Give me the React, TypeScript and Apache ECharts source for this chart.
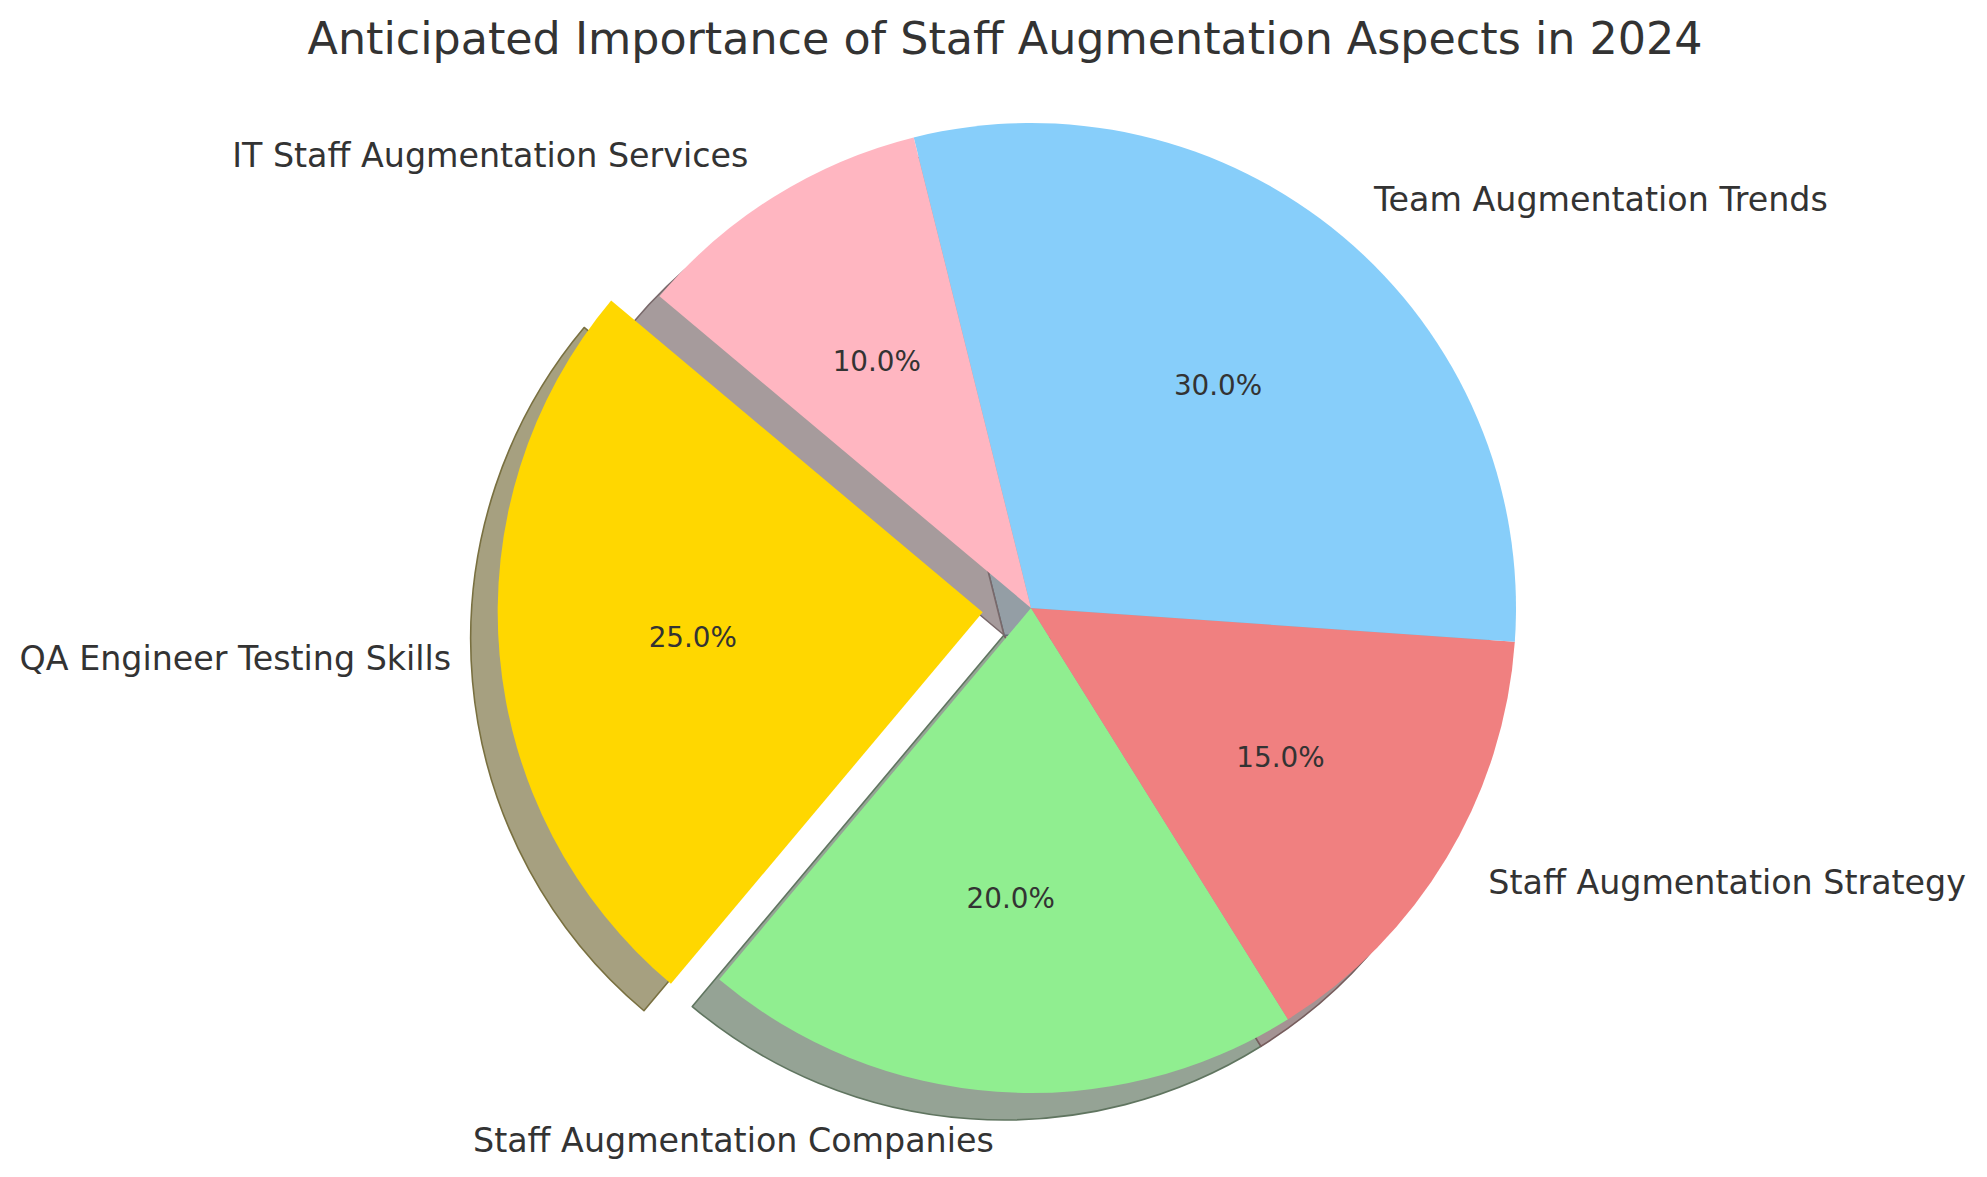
import React, { useEffect, useRef } from 'react';
import * as echarts from 'echarts';

// ---- data ----
const categories = [
  'QA Engineer Testing Skills',
  'Staff Augmentation Companies',
  'Staff Augmentation Strategy',
  'Team Augmentation Trends',
  'IT Staff Augmentation Services',
];
const values = [25, 20, 15, 30, 10];
const explode = [0.1, 0, 0, 0, 0];
const colors = ['#FFD700', '#90EE90', '#F08080', '#87CEFA', '#FFB6C1'];
const titleText = 'Anticipated Importance of Staff Augmentation Aspects in 2024';

// ---- layout ----
const W = 1987;
const H = 1177;
const CX = 1031;
const CY = 608;
const R = 485;
const SHADOW = 27;
const START = 140;
const FONT = 'DejaVu Sans';
const TEXT = '#333333';

function hexToRgb(h: string) {
  const n = parseInt(h.slice(1), 16);
  return [(n >> 16) & 255, (n >> 8) & 255, n & 255];
}
function mix(hex: string, k: number, cover: number) {
  const c = hexToRgb(hex).map((v) => v * k);
  const out = c.map((v) => Math.round(v * cover + 255 * (1 - cover)));
  return `rgb(${out[0]},${out[1]},${out[2]})`;
}

export default function App() {
  const ref = useRef<HTMLDivElement>(null);
  useEffect(() => {
    document.body.style.margin = '0';
    document.body.style.overflow = 'hidden';
    if (!ref.current) return;
    const chart = echarts.init(ref.current, undefined, { renderer: 'svg', width: W, height: H });
    const maxExplode = Math.max(...explode);
    const common = {
      type: 'pie',
      silent: true,
      startAngle: START,
      clockwise: false,
      selectedMode: 'multiple',
      selectedOffset: maxExplode * R,
      avoidLabelOverlap: false,
      emphasis: { disabled: true },
    };
    const shadowSeries = {
      ...common,
      center: [CX - SHADOW, CY + SHADOW],
      radius: R,
      label: { show: false },
      labelLine: { show: false },
      data: categories.map((name, i) => {
        const st = { color: mix(colors[i], 0.3, 0.5), borderColor: mix(colors[i], 0.3, 0.75), borderWidth: 1.6 };
        return { name, value: values[i], selected: explode[i] > 0, itemStyle: st, select: { itemStyle: st } };
      }),
    };
    const mainSeries = {
      ...common,
      center: [CX, CY],
      radius: R,
      label: {
        show: true,
        position: 'outside',
        formatter: '{b}',
        fontSize: 33.3,
        fontFamily: FONT,
        color: TEXT,
        distanceToLabelLine: 0,
      },
      labelLine: { show: false, length: R * 0.1, length2: 0 },
      data: categories.map((name, i) => {
        const st = { color: colors[i], borderWidth: 0 };
        return { name, value: values[i], selected: explode[i] > 0, itemStyle: st, select: { itemStyle: st } };
      }),
    };
    const pctSeries = {
      ...common,
      center: [CX, CY],
      radius: [2 * (0.6 * R - 3) - R, R],
      label: {
        show: true,
        position: 'inside',
        formatter: (p: any) => p.percent.toFixed(1) + '%',
        fontSize: 27.8,
        fontFamily: FONT,
        color: TEXT,
      },
      labelLine: { show: false },
      data: categories.map((name, i) => {
        const st = { color: 'rgba(0,0,0,0)', borderWidth: 0 };
        return { name, value: values[i], selected: explode[i] > 0, itemStyle: st, select: { itemStyle: st } };
      }),
    };
    chart.setOption({
      animation: false,
      backgroundColor: '#ffffff',
      graphic: [
        {
          type: 'text',
          x: 1005,
          y: 38,
          style: {
            text: titleText,
            fontSize: 44.4,
            fontFamily: FONT,
            fill: TEXT,
            textAlign: 'center',
            textVerticalAlign: 'middle',
          },
        },
      ],
      series: [shadowSeries, mainSeries, pctSeries],
    } as any);
    return () => chart.dispose();
  }, []);
  return <div ref={ref} style={{ width: W, height: H }} />;
}
